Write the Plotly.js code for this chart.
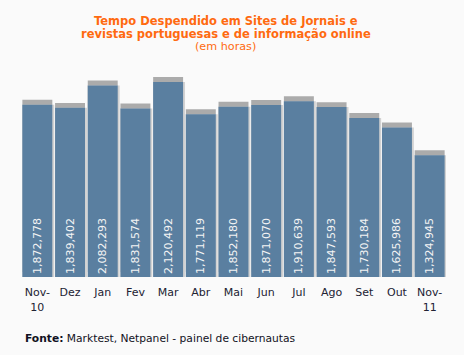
<!DOCTYPE html>
<html>
<head>
<meta charset="utf-8">
<script src="https://cdn.plot.ly/plotly-3.0.1.min.js"></script>
<style>
html,body{margin:0;padding:0;background:#fafafa;}
#chart{width:464px;height:355px;}
</style>
</head>
<body>
<div id="chart"></div>
<script>
const months = ["Nov-<br>10","Dez","Jan","Fev","Mar","Abr","Mai","Jun","Jul","Ago","Set","Out","Nov-<br>11"];
const hours = [1872778,1839402,2082293,1831574,2120492,1771119,1852180,1871070,1910639,1847593,1730184,1625986,1324945];
const valueLabels = hours.map(v => v.toLocaleString('en-US'));
const titleLines = ["Tempo Despendido em Sites de Jornais e","revistas portuguesas e de informação online","(em horas)"];

const R = 2360000;      // axis top
const shift = 54000;    // ~5px cap above each bar

const cap = {
  type:'bar', x: months, y: hours, yaxis:'y',
  marker:{color:'#ababab'}, width:0.916, offset:-0.458,
  hoverinfo:'skip', showlegend:false
};
const side = {
  type:'bar', x: months, y: hours, yaxis:'y2',
  marker:{color:'#d2d2d2'}, width:0.975, offset:-0.458,
  hoverinfo:'skip', showlegend:false
};
const main = {
  type:'bar', x: months, y: hours, yaxis:'y2',
  marker:{color:'#5a7fa0'}, width:0.916, offset:-0.458,
  text: valueLabels, textposition:'inside', insidetextanchor:'start',
  textangle:-90, constraintext:'none',
  textfont:{family:'DejaVu Sans', size:11, color:'#f4f4f4'},
  showlegend:false
};

// pixel row -> paper y (plot area rows 60..277)
const py = p => (277 - p) / 217;
const tx = 0.482;
const orange = '#ff6a10';

const layout = {
  width:464, height:355,
  paper_bgcolor:'#fafafa', plot_bgcolor:'#fafafa',
  margin:{l:21, r:18, t:60, b:78},
  barmode:'overlay',
  showlegend:false,
  xaxis:{
    type:'category', showgrid:false, zeroline:false, showline:false,
    ticks:'outside', ticklen:5, tickcolor:'rgba(0,0,0,0)',
    tickfont:{family:'DejaVu Sans', size:11, color:'#222233'},
    range:[-0.5, 12.5]
  },
  yaxis:{
    range:[-shift, R-shift], visible:false, fixedrange:true
  },
  yaxis2:{
    range:[0, R], overlaying:'y', visible:false, fixedrange:true
  },
  annotations:[
    {text:'<b>'+titleLines[0]+'</b>', xref:'paper', yref:'paper', x:tx, y:py(21),
     xanchor:'center', yanchor:'middle', showarrow:false,
     font:{family:'DejaVu Sans', size:11.5, color:orange}},
    {text:'<b>'+titleLines[1]+'</b>', xref:'paper', yref:'paper', x:tx, y:py(34),
     xanchor:'center', yanchor:'middle', showarrow:false,
     font:{family:'DejaVu Sans', size:11.5, color:orange}},
    {text:titleLines[2], xref:'paper', yref:'paper', x:tx, y:py(47),
     xanchor:'center', yanchor:'middle', showarrow:false,
     font:{family:'DejaVu Sans', size:11.2, color:orange}},
    {text:'<b>Fonte:</b> Marktest, Netpanel - painel de cibernautas',
     xref:'paper', yref:'paper', x:0.005, y:py(338),
     xanchor:'left', yanchor:'middle', showarrow:false,
     font:{family:'DejaVu Sans', size:10.7, color:'#111122'}}
  ]
};

Plotly.newPlot('chart', [cap, side, main], layout, {displayModeBar:false, staticPlot:true});
</script>
</body>
</html>
